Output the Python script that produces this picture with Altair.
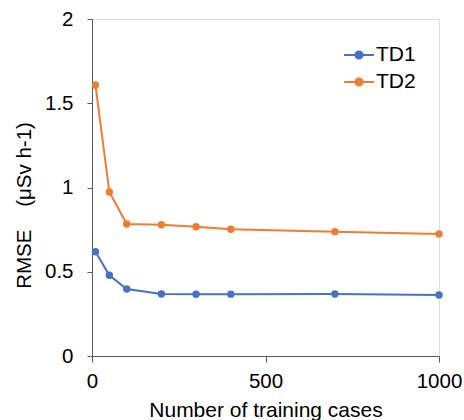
import altair as alt
import pandas as pd

cases = [10, 50, 100, 200, 300, 400, 700, 1000]
td1 = [0.619, 0.479, 0.398, 0.368, 0.366, 0.367, 0.368, 0.362]
td2 = [1.608, 0.973, 0.783, 0.779, 0.767, 0.752, 0.738, 0.724]
series_names = ["TD1", "TD2"]
colors = ["#4472C4", "#ED7D31"]
x_ticks = [0, 500, 1000]
y_ticks = [0, 0.5, 1, 1.5, 2]

rows = []
for name, vals in zip(series_names, [td1, td2]):
    for c, v in zip(cases, vals):
        rows.append({"cases": c, "rmse": v, "series": name})
df = pd.DataFrame(rows)

FONT = "Liberation Sans"
AX = "#595959"

legend_path = ("M-1,0L1,0M-0.24,0A0.24,0.24,0,1,1,0.24,0"
               "A0.24,0.24,0,1,1,-0.24,0Z")

leg = alt.Legend(title=None, orient="none", legendX=251, legendY=20,
                 symbolType=legend_path, symbolSize=900,
                 symbolStrokeWidth=2, labelFont=FONT,
                 labelFontSize=21, labelColor="black",
                 labelOffset=1, rowPadding=1)
cscale = alt.Scale(domain=series_names, range=colors)

x_enc = alt.X("cases:Q",
              scale=alt.Scale(domain=[0, 1000], nice=False),
              axis=alt.Axis(values=x_ticks, title="Number of training cases",
                            format="d",
                            grid=False, domainColor=AX, tickColor=AX,
                            tickSize=6, labelPadding=9, labelFontSize=20.5,
                            labelColor="black", labelFont=FONT,
                            titleFont=FONT, titleFontSize=21, titleFontWeight="normal",
                            titleColor="black", titleX=173.5, titleY=60,
                            titleBaseline="alphabetic", labelFlush=False))
y_enc = alt.Y("rmse:Q",
              scale=alt.Scale(domain=[0, 2], nice=False),
              axis=alt.Axis(values=y_ticks, title="RMSE\u00a0\u00a0\u00a0 (μSv h-1)",
                            format="~g",
                            grid=False, domainColor=AX, tickColor=AX,
                            tickSize=5, labelPadding=14, labelFontSize=20.5,
                            labelColor="black", labelFont=FONT,
                            titleFont=FONT, titleFontSize=20.5, titleFontWeight="normal",
                            titleColor="black", titleAngle=270, titleX=-68, titleY=186,
                            titleAlign="center", titleBaseline="middle"))

lines = alt.Chart(df).mark_line(strokeWidth=2).encode(
    x=x_enc, y=y_enc,
    stroke=alt.Stroke("series:N", scale=cscale, legend=leg),
)
points = alt.Chart(df).mark_point(filled=True, size=55, opacity=1).encode(
    x=x_enc, y=y_enc,
    fill=alt.Fill("series:N", scale=cscale, legend=leg),
)

chart = alt.layer(lines, points).properties(
    width=347, height=337,
    padding={"left": 92, "top": 19, "right": 25, "bottom": 64},
    autosize=alt.AutoSizeParams(type="none"),
).configure_view(stroke=AX, strokeWidth=1).configure(background="white")

chart.save("out.html", embed_options={"renderer": "svg", "actions": False})
